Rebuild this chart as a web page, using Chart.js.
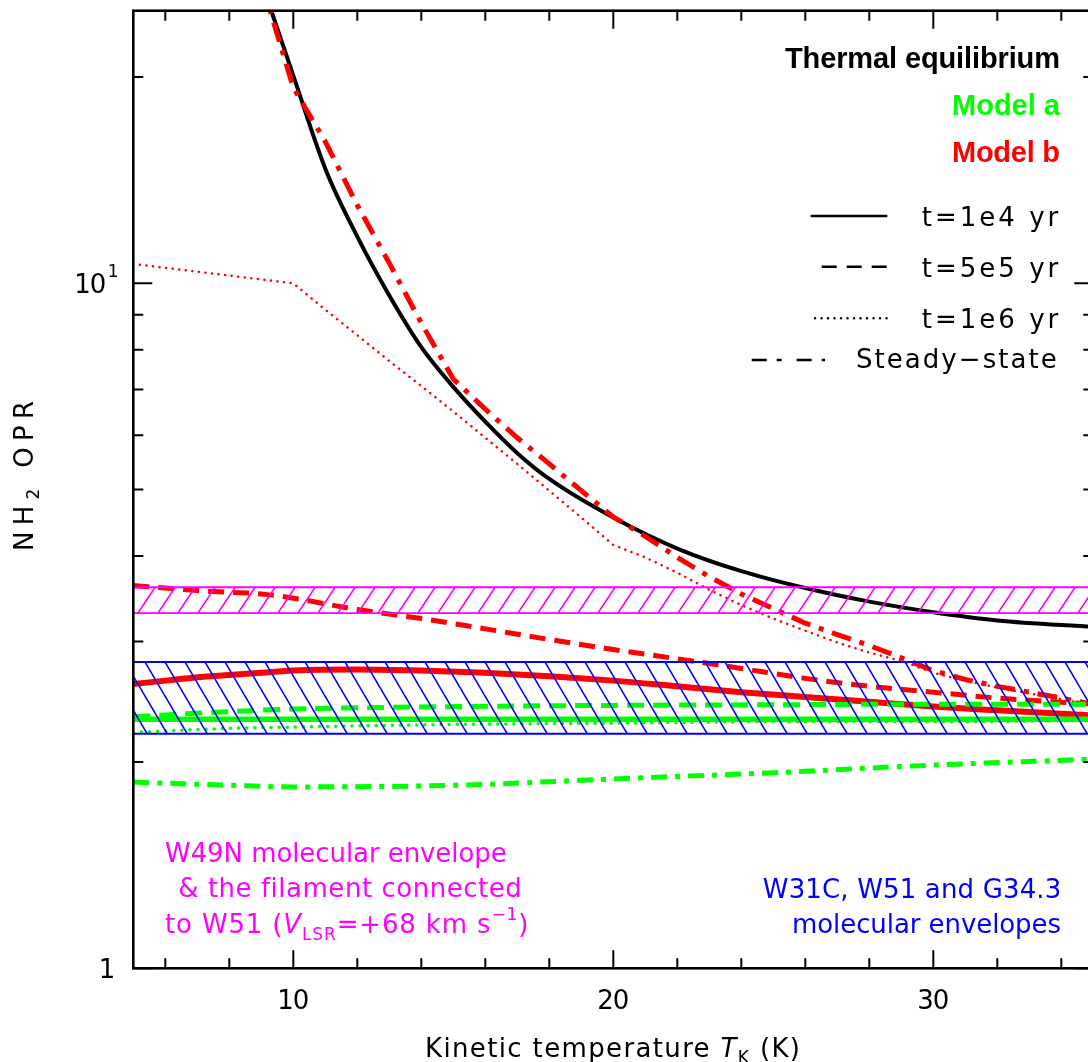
<!DOCTYPE html>
<html>
<head>
<meta charset="utf-8">
<title>NH2 OPR vs kinetic temperature</title>
<script src="https://cdn.jsdelivr.net/npm/chart.js@4.4.1/dist/chart.umd.min.js"></script>
<style>
  html, body { margin: 0; padding: 0; overflow: hidden; background: #fff; }
  canvas { display: block; }
</style>
</head>
<body>
<canvas id="opr" width="1100" height="1062"></canvas>
<script>
// ---- data: NH2 ortho-to-para ratio against kinetic temperature (K) ----
const tRange = [5, 35];
const oprRange = [1, 25];

const thermalT   = [9, 10, 11, 12, 13, 14, 15, 16, 17, 18, 20, 22, 24, 26, 28, 30, 32, 35];
const thermalOPR = [27.6, 20.1, 14.7, 11.7, 9.6, 8.07, 7.06, 6.28, 5.65, 5.18, 4.55, 4.1, 3.8, 3.59, 3.43, 3.31, 3.22, 3.15];

// Model a (green)
const modelAT      = [5, 8, 10, 15, 20, 25, 30, 35];
const modelA_1e4   = [2.31, 2.31, 2.31, 2.31, 2.31, 2.31, 2.31, 2.31];
const modelA_5e5   = [2.33, 2.37, 2.39, 2.41, 2.42, 2.425, 2.43, 2.43];
const modelA_1e6   = [2.21, 2.24, 2.25, 2.27, 2.28, 2.29, 2.29, 2.30];
const modelA_steady = [1.87, 1.85, 1.84, 1.85, 1.89, 1.93, 1.98, 2.02];

// Model b (red)
const modelBT    = [5, 6, 7, 8, 9, 10, 12, 14, 16, 18, 20, 22, 24, 26, 28, 30, 32, 35];
const modelB_1e4 = [2.60, 2.63, 2.66, 2.68, 2.70, 2.72, 2.73, 2.72, 2.70, 2.67, 2.63, 2.58, 2.53, 2.49, 2.45, 2.41, 2.38, 2.34];
const modelB_5e5 = [3.62, 3.59, 3.56, 3.54, 3.52, 3.47, 3.34, 3.24, 3.13, 3.02, 2.92, 2.83, 2.74, 2.65, 2.58, 2.53, 2.48, 2.43];
const modelB_1e6T = [5, 10, 11, 12, 13, 14, 15, 16, 17, 18, 19, 20, 21, 22, 23, 24, 25, 26, 27, 28, 29, 30, 31, 32, 33, 34, 35];
const modelB_1e6  = [10.67, 10.0, 9.15, 8.4, 7.7, 7.08, 6.5, 5.95, 5.45, 4.98, 4.55, 4.15, 3.98, 3.78, 3.57, 3.39, 3.24, 3.11, 2.99, 2.89, 2.81, 2.70, 2.63, 2.57, 2.52, 2.47, 2.42];
const modelB_steadyT = [9, 10, 11, 12, 13, 14, 15, 16, 17, 18, 19, 20, 21, 22, 23, 24, 25, 26, 27, 28, 29, 30, 31, 32, 33, 34, 35];
const modelB_steady  = [27.6, 19.3, 16.1, 13.0, 10.7, 8.75, 7.25, 6.55, 5.95, 5.45, 4.98, 4.56, 4.27, 3.98, 3.73, 3.52, 3.35, 3.19, 3.07, 2.96, 2.84, 2.72, 2.64, 2.58, 2.53, 2.48, 2.43];

// observed OPR ranges
const w49nBand = [3.3, 3.6];
const w31cBand = [2.2, 2.8];

// axis ticks
const xMajorTicks = [10, 20, 30];
const xMinorTicks = [6, 8, 12, 14, 16, 18, 22, 24, 26, 28, 32, 34];
const yMajorTicks = [1, 10];
const yMinorTicks = [2, 3, 4, 5, 6, 7, 8, 9, 20];

const RED = '#ff0000', GREEN = '#00ff00', MAGENTA = '#ff00ff', BLUE = '#0000ff';
const FONT = '"DejaVu Sans", "Liberation Sans", sans-serif';
const BOLD_FONT = '"Liberation Sans", Arial, sans-serif';

// diagonal hatch tile; dir 1 = "/", -1 = "\"
function hatch(color, slope, dir, ox, oy) {
    const w = 20, h = Math.round(20 * slope);
    const c = document.createElement('canvas');
    c.width = w; c.height = h;
    const g = c.getContext('2d');
    g.strokeStyle = color;
    g.lineWidth = 1.6;
    for (const k of [-1, 0, 1]) {
        g.beginPath();
        if (dir > 0) { g.moveTo(-w + k * w, 2 * h); g.lineTo(2 * w + k * w, -h); }
        else { g.moveTo(-w + k * w, -h); g.lineTo(2 * w + k * w, 2 * h); }
        g.stroke();
    }
    const p = document.createElement('canvas').getContext('2d').createPattern(c, 'repeat');
    p.setTransform(new DOMMatrix([1, 0, 0, 1, ox, oy]));
    return p;
}

function line(label, xs, ys, color, width, dash, extra) {
    return Object.assign({
        label: label,
        data: xs.map((t, i) => ({ x: t, y: ys[i] })),
        borderColor: color,
        borderWidth: width,
        borderDash: dash,
        pointRadius: 0,
        fill: false,
        clip: 0,
        order: 2
    }, extra);
}

function band(label, lims, color, pattern) {
    return [
        {
            label: label,
            data: tRange.map(t => ({ x: t, y: lims[1] })),
            borderColor: color, borderWidth: 1.8, pointRadius: 0,
            fill: { value: lims[0] }, backgroundColor: pattern, order: 0
        },
        {
            label: label + ' low',
            data: tRange.map(t => ({ x: t, y: lims[0] })),
            borderColor: color, borderWidth: 1.8, pointRadius: 0,
            fill: false, order: 0
        }
    ];
}

// text made of runs, optionally with sub/superscripts, stretched to a given width
function drawRuns(ctx, runs, x, y, o) {
    const bold = o.weight === 'bold';
    const size = o.size || 26;
    const fam = bold ? BOLD_FONT : FONT;
    const fontFor = r => (r.it ? 'italic ' : '') + (bold ? 'bold ' : '') + ((r.sub || r.sup) ? Math.round(size * 0.66) : size) + 'px ' + fam;
    ctx.save();
    ctx.fillStyle = o.color || '#000';
    ctx.textAlign = 'left';
    ctx.textBaseline = 'alphabetic';
    const hasLS = 'letterSpacing' in ctx;
    if (hasLS) ctx.letterSpacing = '0px';
    let w0 = 0, n = 0;
    const widths = runs.map(r => {
        ctx.font = fontFor(r);
        const w = ctx.measureText(r.t).width;
        w0 += w; n += r.t.length;
        return w;
    });
    const target = o.width || w0;
    let ls = n > 1 ? (target - w0) / (n - 1) : 0;
    let sx = 1;
    if (!hasLS) { sx = target / w0; ls = 0; }
    ctx.translate(x, y);
    if (o.rotate) ctx.rotate(o.rotate);
    let cx = o.align === 'right' ? -target : (o.align === 'center' ? -target / 2 : 0);
    ctx.scale(sx, 1);
    cx /= sx;
    runs.forEach((r, i) => {
        ctx.font = fontFor(r);
        if (hasLS) ctx.letterSpacing = ls + 'px';
        const dy = r.sub ? size * 0.24 : (r.sup ? -size * 0.52 : 0);
        ctx.fillText(r.t, cx, dy);
        cx += widths[i] + ls * r.t.length;
    });
    ctx.restore();
}

const framePlugin = {
    id: 'pgframe',
    afterDraw(chart) {
        const { ctx, chartArea: a } = chart;
        const xs = chart.scales.x, ys = chart.scales.y;
        ctx.save();
        ctx.strokeStyle = '#000';
        ctx.lineWidth = 2.6;
        ctx.strokeRect(a.left, a.top, a.right - a.left, a.bottom - a.top);

        // inward ticks on all four sides
        ctx.lineWidth = 2;
        ctx.beginPath();
        const xt = (v, len) => {
            const p = xs.getPixelForValue(v);
            ctx.moveTo(p, a.bottom); ctx.lineTo(p, a.bottom - len);
            ctx.moveTo(p, a.top); ctx.lineTo(p, a.top + len);
        };
        const yt = (v, len) => {
            const p = ys.getPixelForValue(v);
            ctx.moveTo(a.left, p); ctx.lineTo(a.left + len, p);
            ctx.moveTo(a.right, p); ctx.lineTo(a.right - len, p);
        };
        xMajorTicks.forEach(v => xt(v, 18));
        xMinorTicks.forEach(v => xt(v, 10));
        yMajorTicks.forEach(v => yt(v, 19));
        yMinorTicks.forEach(v => yt(v, 10));
        ctx.stroke();

        // tick labels
        xMajorTicks.forEach(v => {
            drawRuns(ctx, [{ t: String(v) }], xs.getPixelForValue(v), a.bottom + 41, { align: 'center', width: 32 });
        });
        drawRuns(ctx, [{ t: '1' }], a.left - 18, ys.getPixelForValue(1) + 9.5, { align: 'right' });
        const y10 = ys.getPixelForValue(10);
        drawRuns(ctx, [{ t: '10' }], a.left - 27, y10 + 9.5, { align: 'right', width: 32 });
        drawRuns(ctx, [{ t: '1', sup: true }], a.left - 25.5, y10 + 7, {});

        // axis titles
        drawRuns(ctx, [{ t: 'Kinetic temperature ' }, { t: 'T', it: true }, { t: 'K', sub: true }, { t: ' (K)' }],
            425, 1056.7, { width: 375 });
        drawRuns(ctx, [{ t: 'NH' }, { t: '2', sub: true }, { t: ' OPR' }],
            33, 551, { width: 150, rotate: -Math.PI / 2 });

        // model legend
        drawRuns(ctx, [{ t: 'Thermal equilibrium' }], 1060, 68.3, { align: 'right', width: 275, size: 29, weight: 'bold' });
        drawRuns(ctx, [{ t: 'Model a' }], 1060, 115, { align: 'right', width: 108, size: 29, weight: 'bold', color: GREEN });
        drawRuns(ctx, [{ t: 'Model b' }], 1060, 162.3, { align: 'right', width: 108, size: 29, weight: 'bold', color: RED });

        const styles = [
            { y: 216, x0: 810.7, x1: 887.3, dash: [], cap: 'butt', text: 't=1e4 yr', tx: 921.7, tw: 136.6, base: 226 },
            { y: 266.7, x0: 821.7, x1: 888.3, dash: [15, 10], cap: 'butt', text: 't=5e5 yr', tx: 921.7, tw: 136.6, base: 277.3 },
            { y: 318.3, x0: 815, x1: 891.7, dash: [0.1, 6.4], cap: 'round', text: 't=1e6 yr', tx: 921.7, tw: 136.6, base: 328.3 },
            { y: 360, x0: 751.7, x1: 825, dash: [15, 10, 5, 15], cap: 'butt', text: 'Steady\u2212state', tx: 856, tw: 200.7, base: 368.3 }
        ];
        styles.forEach(s => {
            ctx.save();
            ctx.strokeStyle = '#000';
            ctx.lineWidth = 2.4;
            ctx.lineCap = s.cap;
            ctx.setLineDash(s.dash);
            ctx.beginPath();
            ctx.moveTo(s.x0, s.y); ctx.lineTo(s.x1, s.y);
            ctx.stroke();
            ctx.restore();
            drawRuns(ctx, [{ t: s.text }], s.tx, s.base, { width: s.tw });
        });

        // source annotations
        drawRuns(ctx, [{ t: 'W49N molecular envelope' }], 165, 861.7, { width: 341.7, color: MAGENTA });
        drawRuns(ctx, [{ t: '& the filament connected' }], 178.3, 897.3, { width: 343.4, color: MAGENTA });
        drawRuns(ctx, [{ t: 'to W51 (' }, { t: 'V', it: true }, { t: 'LSR', sub: true }, { t: '=+68 km s' }, { t: '\u22121', sup: true }, { t: ')' }],
            165, 933.3, { width: 363.3, color: MAGENTA });
        drawRuns(ctx, [{ t: 'W31C, W51 and G34.3' }], 1061.3, 898.3, { align: 'right', width: 298.5, color: BLUE });
        drawRuns(ctx, [{ t: 'molecular envelopes' }], 1061, 933.3, { align: 'right', width: 269, color: BLUE });
        ctx.restore();
    }
};

const smooth = { cubicInterpolationMode: 'monotone' };

new Chart(document.getElementById('opr'), {
    type: 'line',
    plugins: [framePlugin],
    data: {
        datasets: [
            ...band('W49N envelope', w49nBand, MAGENTA, hatch(MAGENTA, 1.5, 1, 158, 583)),
            ...band('W31C, W51, G34.3 envelopes', w31cBand, BLUE, hatch(BLUE, 1.7, -1, 145, 662)),
            line('Model a, 1e4 yr', modelAT, modelA_1e4, GREEN, 5.5, [], smooth),
            line('Model a, 5e5 yr', modelAT, modelA_5e5, GREEN, 5, [17, 9], smooth),
            line('Model a, 1e6 yr', modelAT, modelA_1e6, GREEN, 3.5, [0.1, 8], Object.assign({ borderCapStyle: 'round' }, smooth)),
            line('Model a, steady-state', modelAT, modelA_steady, GREEN, 5, [16, 8, 5, 8], smooth),
            line('Model b, 1e4 yr', modelBT, modelB_1e4, RED, 6, [], smooth),
            line('Model b, 5e5 yr', modelBT, modelB_5e5, RED, 5, [16, 9], smooth),
            line('Model b, 1e6 yr', modelB_1e6T, modelB_1e6, RED, 2.5, [0.1, 6.5], { borderCapStyle: 'round', tension: 0 }),
            line('Model b, steady-state', modelB_steadyT, modelB_steady, RED, 5, [20, 9, 5, 9], { tension: 0 }),
            line('Thermal equilibrium', thermalT, thermalOPR, '#000', 4, [], Object.assign({ order: 3 }, smooth))
        ]
    },
    options: {
        responsive: false,
        animation: false,
        devicePixelRatio: 1,
        layout: {
            padding: { left: 133.3, right: 6.7, top: 10.7, bottom: 93.7 }
        },
        scales: {
            x: { type: 'linear', min: tRange[0], max: tRange[1], display: false },
            y: { type: 'logarithmic', min: oprRange[0], max: oprRange[1], display: false }
        },
        plugins: {
            legend: { display: false },
            tooltip: { enabled: false }
        }
    }
});
</script>
</body>
</html>
